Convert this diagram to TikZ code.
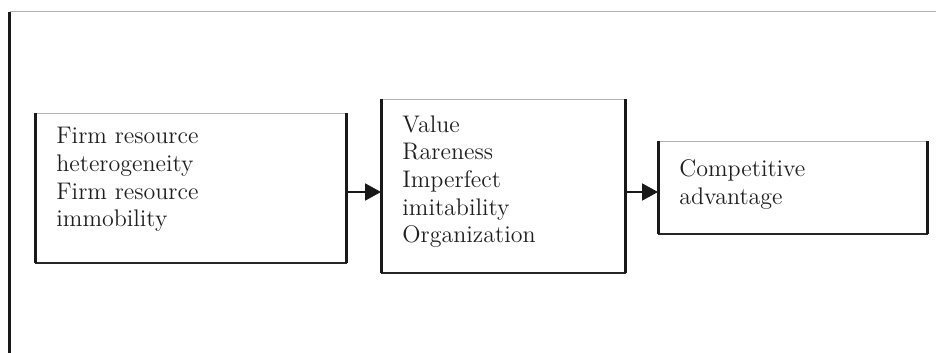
\documentclass[tikz,border=0pt]{standalone}
\usetikzlibrary{arrows.meta,positioning}

\tikzset{
  panel/.style={inner sep=0pt, anchor=south west},
  boxtext/.style={inner sep=0pt, align=left, text=black!88,
    font=\fontsize{12}{13.8}\selectfont},
  sideedge/.style={line width=1.5pt, black!90},
  topedge/.style={line width=0.5pt, black!30},
  bottomedge/.style={line width=1pt, black!85},
  flow/.style={line width=1pt, black!90, -{Triangle[length=8pt,width=8.5pt]}}
}

% four sides of a panel: heavy left and right, light top, dark bottom
\newcommand{\panelsides}[1]{%
  \draw[topedge] (#1.north west) -- (#1.north east);
  \draw[bottomedge] (#1.south west) -- (#1.south east);
  \draw[sideedge] (#1.south west) -- (#1.north west);
  \draw[sideedge] (#1.south east) -- (#1.north east);
}

\begin{document}
\begin{tikzpicture}[x=0.5pt,y=0.5pt]
\useasboundingbox (0,0) rectangle (936,353);

% frame of the figure
\draw[topedge] (10,341) -- (936,341);
\draw[sideedge] (9.5,341) -- (9.5,0);

% panels
\node[panel, minimum width=155.5pt, minimum height=74.5pt] (res) at (35,90) {};
\node[panel, minimum width=122pt, minimum height=86.5pt] (vrio) at (381,80) {};
\node[panel, minimum width=134.5pt, minimum height=46pt] (adv) at (658,119) {};
\panelsides{res}
\panelsides{vrio}
\panelsides{adv}

% texts
\node[boxtext, below right=7pt and 10.5pt of res.north west] (restext)
  {Firm resource\\heterogeneity\\Firm resource\\immobility};
\node[boxtext, below right=8pt and 10.5pt of vrio.north west] (vriotext)
  {Value\\Rareness\\Imperfect\\imitability\\Organization};
\node[boxtext, below right=9pt and 10.5pt of adv.north west] (advtext)
  {Competitive\\advantage};

% arrows
\coordinate (level) at (0,161);
\draw[flow] (res.east |- level) -- (vrio.west |- level);
\draw[flow] (vrio.east |- level) -- (adv.west |- level);
\end{tikzpicture}
\end{document}
